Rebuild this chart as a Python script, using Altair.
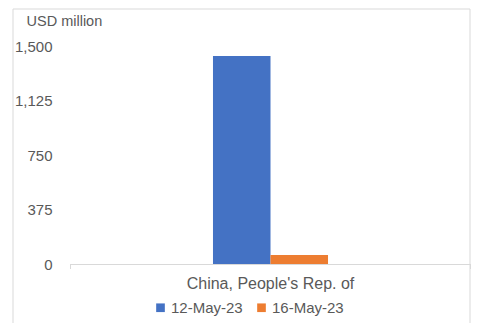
import altair as alt
import pandas as pd

categories = ["China, People's Rep. of"]
series = ["12-May-23", "16-May-23"]
values_12 = [1431]
values_16 = [62]
y_ticks = [0, 375, 750, 1125, 1500]
colors = ["#4472C4", "#ED7D31"]

rows = []
for i, c in enumerate(categories):
    rows.append({"country": c, "date": series[0], "value": values_12[i]})
    rows.append({"country": c, "date": series[1], "value": values_16[i]})
df = pd.DataFrame(rows)

FONT = "Liberation Sans"
TXT = "#595959"
LINE = "#D9D9D9"

W, H = 401, 218

bars = alt.Chart(df).mark_bar().encode(
    x=alt.X("country:N", title=None,
            scale=alt.Scale(paddingInner=0, paddingOuter=1),
            axis=alt.Axis(labelAngle=0, domainColor=LINE, ticks=False, labelFontSize=16,
                          labelColor=TXT, labelFont=FONT, labelPadding=11)),
    xOffset=alt.XOffset("date:N", scale=alt.Scale(paddingInner=0, paddingOuter=0.162)),
    y=alt.Y("value:Q", title="USD million",
            scale=alt.Scale(domain=[0, 1500], nice=False),
            axis=alt.Axis(values=y_ticks, format=",.0f", grid=False, domain=False, ticks=False,
                          labelFontSize=15, labelColor=TXT, labelFont=FONT, labelPadding=18,
                          titleAngle=0, titleAlign="left", titleBaseline="middle",
                          titleX=-44, titleY=-25, titleFontSize=14.5, titleFontWeight="normal",
                          titleColor=TXT, titleFont=FONT)),
    color=alt.Color("date:N", scale=alt.Scale(domain=series, range=colors),
                    legend=alt.Legend(title=None, orient="none", direction="horizontal",
                                      legendX=83, legendY=254, symbolType="square",
                                      symbolSize=75, symbolStrokeWidth=0, labelFontSize=15,
                                      labelColor=TXT, labelFont=FONT, columnPadding=11,
                                      labelOffset=3)),
)

border_df = pd.DataFrame({"k": [0]})
def rule(**enc):
    return alt.Chart(border_df).mark_rule(color=LINE, strokeWidth=1).encode(**enc)

left = rule(x=alt.value(-57), y=alt.value(-37), y2=alt.value(285))
right = rule(x=alt.value(400), y=alt.value(-37), y2=alt.value(285))
top = rule(x=alt.value(-57), x2=alt.value(400), y=alt.value(-37))
tick_l = rule(x=alt.value(0.5), y=alt.value(H), y2=alt.value(H + 5))
tick_r = rule(x=alt.value(W - 0.5), y=alt.value(H), y2=alt.value(H + 5))

chart = alt.layer(bars, left, right, top, tick_l, tick_r).properties(
    width=W, height=H,
    autosize=alt.AutoSizeParams(type="none"),
    padding={"left": 62, "top": 38, "right": 0, "bottom": 59},
).configure_view(stroke=None)

chart.save("out.html", embed_options={"renderer": "svg", "actions": False})
